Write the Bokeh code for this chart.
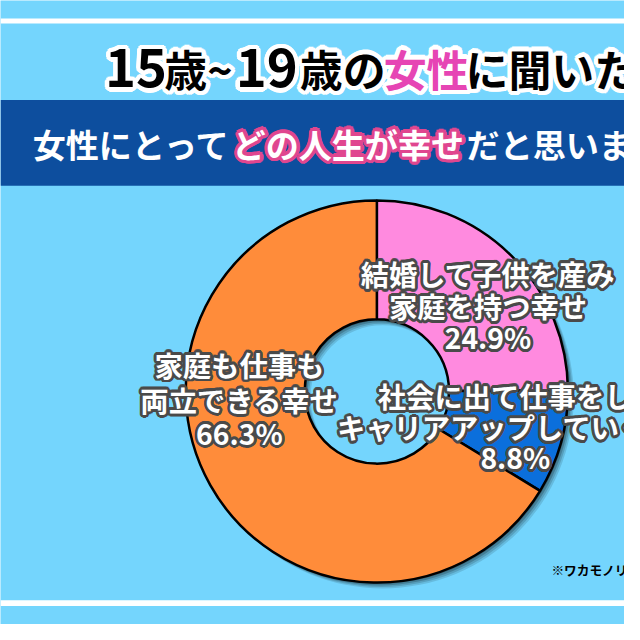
import math
from bokeh.plotting import figure
from bokeh.models import Range1d, ColumnDataSource
from bokeh.embed import file_html
from bokeh.resources import INLINE
from bokeh.core.properties import value

# ---------------- data ----------------
categories = ["結婚して子供を産み家庭を持つ幸せ",
              "社会に出て仕事をしキャリアアップしていく",
              "家庭も仕事も両立できる幸せ"]
shares = [24.9, 8.8, 66.3]
label_lines = [["結婚して子供を産み", "家庭を持つ幸せ"],
               ["社会に出て仕事をし", "キャリアアップしていく"],
               ["家庭も仕事も", "両立できる幸せ"]]
title_parts = ["15", "歳", "~", "19", "歳の", "女性", "に聞いた"]
title_highlight = [False, False, False, False, False, True, False]
subtitle_parts = ["女性にとって", "どの人生が幸せ", "だと思いま"]
subtitle_highlight = [False, True, False]
source_note = "※ワカモノリ"

# ---------------- styles / layout ----------------
BG = "#74D5FD"
DARK = "#0D4E9E"
slice_colors = ["#FF8ADF", "#0B6FDC", "#FF8C3A"]
PINK_TITLE = "#E645B4"
PINK_OUT = "#E0468F"
LABEL_OUT = "#4A4A4A"
FONT = value("Noto Sans CJK JP")
W = 624
S = W / 640.0  # screen px per reference px


def Y(ry):  # reference pixel row -> data y
    return 640 - ry


CX, CY = 386, Y(401)
R_OUT, R_IN = 196, 74

p = figure(width=W, height=W, x_range=Range1d(0, 640), y_range=Range1d(0, 640),
           output_backend="svg", toolbar_location=None, min_border=0)
p.axis.visible = False
p.grid.visible = False
p.outline_line_color = None
p.background_fill_color = BG
p.border_fill_color = BG

# bands
p.quad(left=[0], right=[640], top=[Y(18.5)], bottom=[Y(23.5)], fill_color="white", line_color=None)
p.quad(left=[0], right=[640], top=[Y(102)], bottom=[Y(190)], fill_color=DARK, line_color=None)
p.quad(left=[0], right=[640], top=[Y(615)], bottom=[Y(621)], fill_color="white", line_color=None)

# shadow of the ring
for off, a in [(6, 0.12), (4.5, 0.15), (3, 0.2), (1.5, 0.2)]:
    p.annulus(x=[CX + off], y=[CY - off], inner_radius=R_IN, outer_radius=R_OUT,
              fill_color="black", fill_alpha=a, line_color=None)

# donut slices (clockwise from 12 o'clock)
starts, ends = [], []
cum = 0.0
for s in shares:
    starts.append(math.pi / 2 - 2 * math.pi * cum / 100)
    cum += s
    ends.append(math.pi / 2 - 2 * math.pi * cum / 100)
src = ColumnDataSource(dict(start=starts, end=ends, color=slice_colors, cat=categories))
p.annular_wedge(x=CX, y=CY, inner_radius=R_IN, outer_radius=R_OUT,
                start_angle="start", end_angle="end", direction="clock",
                fill_color="color", line_color="black", line_width=2.5, source=src)


def plain(x, y, txt, size, color, align="left"):
    p.text(x=[x], y=[y], text=[txt], text_font=FONT, text_font_style="bold",
           text_font_size=f"{size * S:.1f}px", text_color=color, text_align=align,
           text_baseline="middle")


def outlined(x, y, txt, size, fill, stroke, r, align="left"):
    r = r * S
    offs = [(r * math.cos(2 * math.pi * k / 16), r * math.sin(2 * math.pi * k / 16)) for k in range(16)]
    offs += [(r * 0.5 * math.cos(2 * math.pi * k / 8), r * 0.5 * math.sin(2 * math.pi * k / 8)) for k in range(8)]
    s = ColumnDataSource(dict(x=[x] * len(offs), y=[y] * len(offs), t=[txt] * len(offs),
                              dx=[o[0] for o in offs], dy=[o[1] for o in offs]))
    p.text(x="x", y="y", text="t", x_offset="dx", y_offset="dy", source=s,
           text_font=FONT, text_font_style="bold", text_font_size=f"{size * S:.1f}px",
           text_color=stroke, text_align=align, text_baseline="middle")
    plain(x, y, txt, size, fill, align)


# title
title_layout = [(139, "center", 54), (168, "left", 44), (225, "center", 44),
                (273, "center", 54), (307, "left", 44), (393, "left", 44), (477, "left", 44)]
for part, hl, (tx, al, fs) in zip(title_parts, title_highlight, title_layout):
    outlined(tx, Y(69), part, fs, PINK_TITLE if hl else "black", "white", 4.5, align=al)

# subtitle
sub_x = [33, 238, 478]
for part, hl, sx in zip(subtitle_parts, subtitle_highlight, sub_x):
    if hl:
        outlined(sx, Y(147), part, 34, "white", PINK_OUT, 3.5)
    else:
        plain(sx, Y(147), part, 34, "white")

# slice labels: (x, align) per line, and line rows
label_layout = [
    ([(500, "center"), (500, "center"), (500, "center")], [280, 313, 345]),
    ([(387, "left"), (345, "left"), (528, "center")], [405, 437, 468]),
    ([(245, "center"), (245, "center"), (245, "center")], [373, 409, 443]),
]
for lines, s, (xs, lys) in zip(label_lines, shares, label_layout):
    texts = lines + [f"{s}%"]
    for t, (lx, al), ly in zip(texts, xs, lys):
        outlined(lx, Y(ly), t, 29, "white", LABEL_OUT, 2.8, align=al)

# source note
plain(565, Y(584), source_note, 13, "black")

open("out.html", "w").write(file_html(p, INLINE))
